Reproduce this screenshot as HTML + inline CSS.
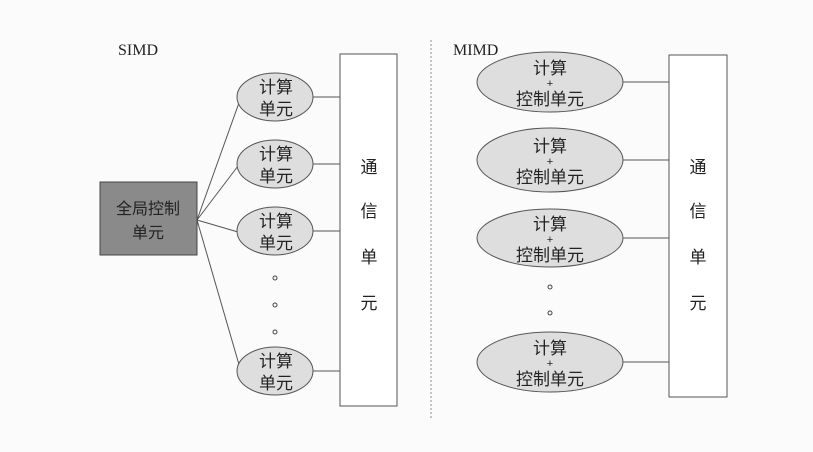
<!DOCTYPE html>
<html><head><meta charset="utf-8"><style>
body{margin:0;background:#fbfbfb;}
svg{display:block;}
text{font-family:"Liberation Sans","Noto Sans CJK SC",sans-serif;fill:#222;}
.s{font-family:"Liberation Serif",serif;}
</style></head><body>
<svg width="813" height="452" viewBox="0 0 813 452" xmlns="http://www.w3.org/2000/svg">
<rect width="813" height="452" fill="#fbfbfb"/>
<g stroke="#555" stroke-width="1" fill="none">
<line x1="197" y1="220" x2="240" y2="100"/>
<line x1="197" y1="220" x2="238" y2="166"/>
<line x1="197" y1="220" x2="238" y2="232"/>
<line x1="197" y1="220" x2="240" y2="368"/>
<line x1="313" y1="97" x2="340" y2="97"/>
<line x1="313" y1="164" x2="340" y2="164"/>
<line x1="313" y1="231" x2="340" y2="231"/>
<line x1="313" y1="371" x2="340" y2="371"/>
<line x1="623" y1="82" x2="669" y2="82"/>
<line x1="623" y1="160" x2="669" y2="160"/>
<line x1="623" y1="238" x2="669" y2="238"/>
<line x1="623" y1="362" x2="669" y2="362"/>
<line x1="431" y1="40" x2="431" y2="420" stroke="#888" stroke-dasharray="2,2"/>
</g>
<rect x="100" y="182" width="97" height="73" fill="#8a8a8a" stroke="#444"/>
<text x="148" y="214" font-size="16" text-anchor="middle">全局控制</text>
<text x="148" y="238" font-size="16" text-anchor="middle">单元</text>
<rect x="340" y="54" width="57" height="352" fill="#fff" stroke="#555"/>
<rect x="669" y="55" width="58" height="342" fill="#fff" stroke="#555"/>
<g font-size="17" text-anchor="middle">
<text x="369" y="173">通</text><text x="369" y="217">信</text><text x="369" y="263">单</text><text x="369" y="309">元</text>
<text x="698" y="173">通</text><text x="698" y="217">信</text><text x="698" y="263">单</text><text x="698" y="309">元</text>
</g>
<text class="s" x="118" y="55" font-size="16">SIMD</text>
<text class="s" x="453" y="55" font-size="16">MIMD</text>
<g fill="#dedede" stroke="#555">
<ellipse cx="275" cy="97" rx="38" ry="24"/>
<ellipse cx="275" cy="164" rx="38" ry="24"/>
<ellipse cx="275" cy="231" rx="38" ry="24"/>
<ellipse cx="275" cy="371" rx="38" ry="24"/>
<ellipse cx="550" cy="82" rx="73" ry="30"/>
<ellipse cx="550" cy="160" rx="73" ry="32"/>
<ellipse cx="550" cy="238" rx="73" ry="29"/>
<ellipse cx="550" cy="362" rx="73" ry="30"/>
</g>
<g font-size="17" text-anchor="middle">
<text x="276" y="93">计算</text><text x="276" y="115">单元</text>
<text x="276" y="160">计算</text><text x="276" y="182">单元</text>
<text x="276" y="227">计算</text><text x="276" y="249">单元</text>
<text x="276" y="367">计算</text><text x="276" y="389">单元</text>
</g>
<g font-size="17" text-anchor="middle">
<text x="550" y="74">计算</text><text x="550" y="87" font-size="11">+</text><text x="550" y="105">控制单元</text>
<text x="550" y="152">计算</text><text x="550" y="165" font-size="11">+</text><text x="550" y="183">控制单元</text>
<text x="550" y="230">计算</text><text x="550" y="243" font-size="11">+</text><text x="550" y="261">控制单元</text>
<text x="550" y="354">计算</text><text x="550" y="367" font-size="11">+</text><text x="550" y="385">控制单元</text>
</g>
<g fill="none" stroke="#444" stroke-width="1">
<circle cx="275" cy="278" r="2"/><circle cx="275" cy="305" r="2"/><circle cx="275" cy="332" r="2"/>
<circle cx="550" cy="287" r="2"/><circle cx="550" cy="313" r="2"/>
</g>
</svg>
</body></html>
